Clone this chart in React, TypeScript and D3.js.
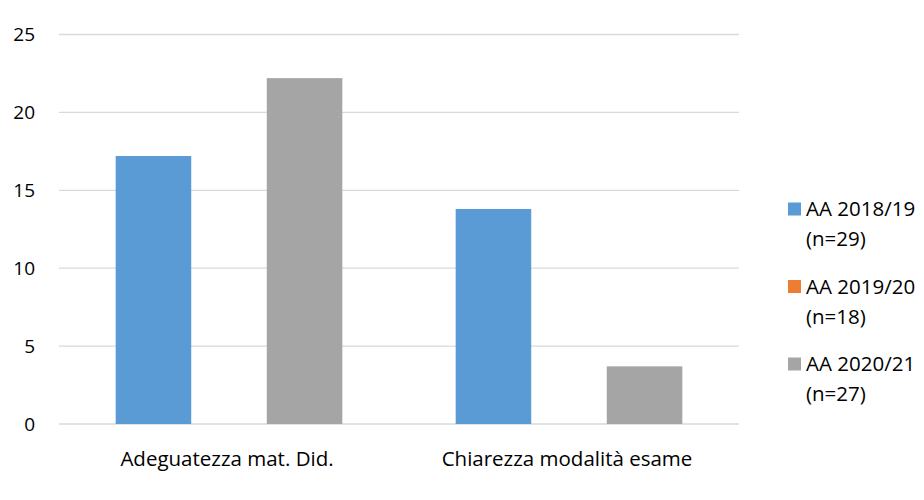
import { useEffect, useRef } from 'react';
import * as d3 from 'd3';

const categories = ['Adeguatezza mat. Did.', 'Chiarezza modalità esame'];
const seriesNames = ['AA 2018/19', 'AA 2019/20', 'AA 2020/21'];
const seriesCounts = ['(n=29)', '(n=18)', '(n=27)'];
const seriesColors = ['#5b9bd5', '#ed7d31', '#a5a5a5'];
const values2018 = [17.2, 13.8];
const values2019 = [0, 0];
const values2020 = [22.2, 3.7];
const yTicks = [0, 5, 10, 15, 20, 25];

const FONT = '"Open Sans", Lato, sans-serif';

export default function App() {
  const svgRef = useRef<SVGSVGElement>(null);

  useEffect(() => {
    if (!svgRef.current) return;
    const svg = d3.select(svgRef.current);
    svg.selectAll('*').remove();

    const left = 59;
    const right = 739;
    const top = 34.5;
    const bottom = 424;

    const series = [values2018, values2019, values2020];

    const x0 = d3.scaleBand<string>().domain(categories).range([left, right]).paddingInner(0).paddingOuter(0);
    // Excel gap width 150%: band = 3 bars + 1.5 bar
    const barW = x0.bandwidth() / 4.5;
    const y = d3.scaleLinear().domain([0, 25]).range([bottom, top]);

    const g = svg.append('g');

    g.selectAll('line.grid')
      .data(yTicks)
      .enter()
      .append('line')
      .attr('x1', left)
      .attr('x2', right)
      .attr('y1', (d) => y(d))
      .attr('y2', (d) => y(d))
      .attr('stroke', '#d9d9d9')
      .attr('stroke-width', 1.3);

    g.selectAll('text.ytick')
      .data(yTicks)
      .enter()
      .append('text')
      .attr('x', 35)
      .attr('y', (d) => y(d))
      .attr('dy', '0.35em')
      .attr('text-anchor', 'end')
      .style('font-family', FONT)
      .style('font-size', '19px')
      .style('fill', '#000')
      .text((d) => d);

    series.forEach((vals, si) => {
      g.selectAll(`rect.s${si}`)
        .data(vals)
        .enter()
        .append('rect')
        .attr('x', (_, i) => (x0(categories[i]) ?? 0) + barW * 0.75 + si * barW)
        .attr('y', (d) => y(d))
        .attr('width', barW)
        .attr('height', (d) => bottom - y(d))
        .attr('fill', seriesColors[si]);
    });

    g.selectAll('text.cat')
      .data(categories)
      .enter()
      .append('text')
      .attr('x', (d) => (x0(d) ?? 0) + x0.bandwidth() / 2 - 2)
      .attr('y', 459)
      .attr('dy', '0.35em')
      .attr('text-anchor', 'middle')
      .style('font-family', FONT)
      .style('font-size', '20.5px')
      .style('fill', '#000')
      .text((d) => d);

    const lg = g.append('g');
    seriesNames.forEach((name, i) => {
      const yy = 209 + i * 77.5;
      lg.append('rect')
        .attr('x', 788)
        .attr('y', yy - 6.5)
        .attr('width', 13)
        .attr('height', 13)
        .attr('fill', seriesColors[i]);
      lg.append('text')
        .attr('x', 806)
        .attr('y', yy)
        .attr('dy', '0.35em')
        .style('font-family', FONT)
        .style('font-size', '20.5px')
        .text(name);
      lg.append('text')
        .attr('x', 806)
        .attr('y', yy + 30)
        .attr('dy', '0.35em')
        .style('font-family', FONT)
        .style('font-size', '20.5px')
        .text(seriesCounts[i]);
    });
  }, []);

  return (
    <div style={{ margin: -8 }}>
      <svg ref={svgRef} width={924} height={500} style={{ display: 'block', background: '#fff' }} />
    </div>
  );
}
